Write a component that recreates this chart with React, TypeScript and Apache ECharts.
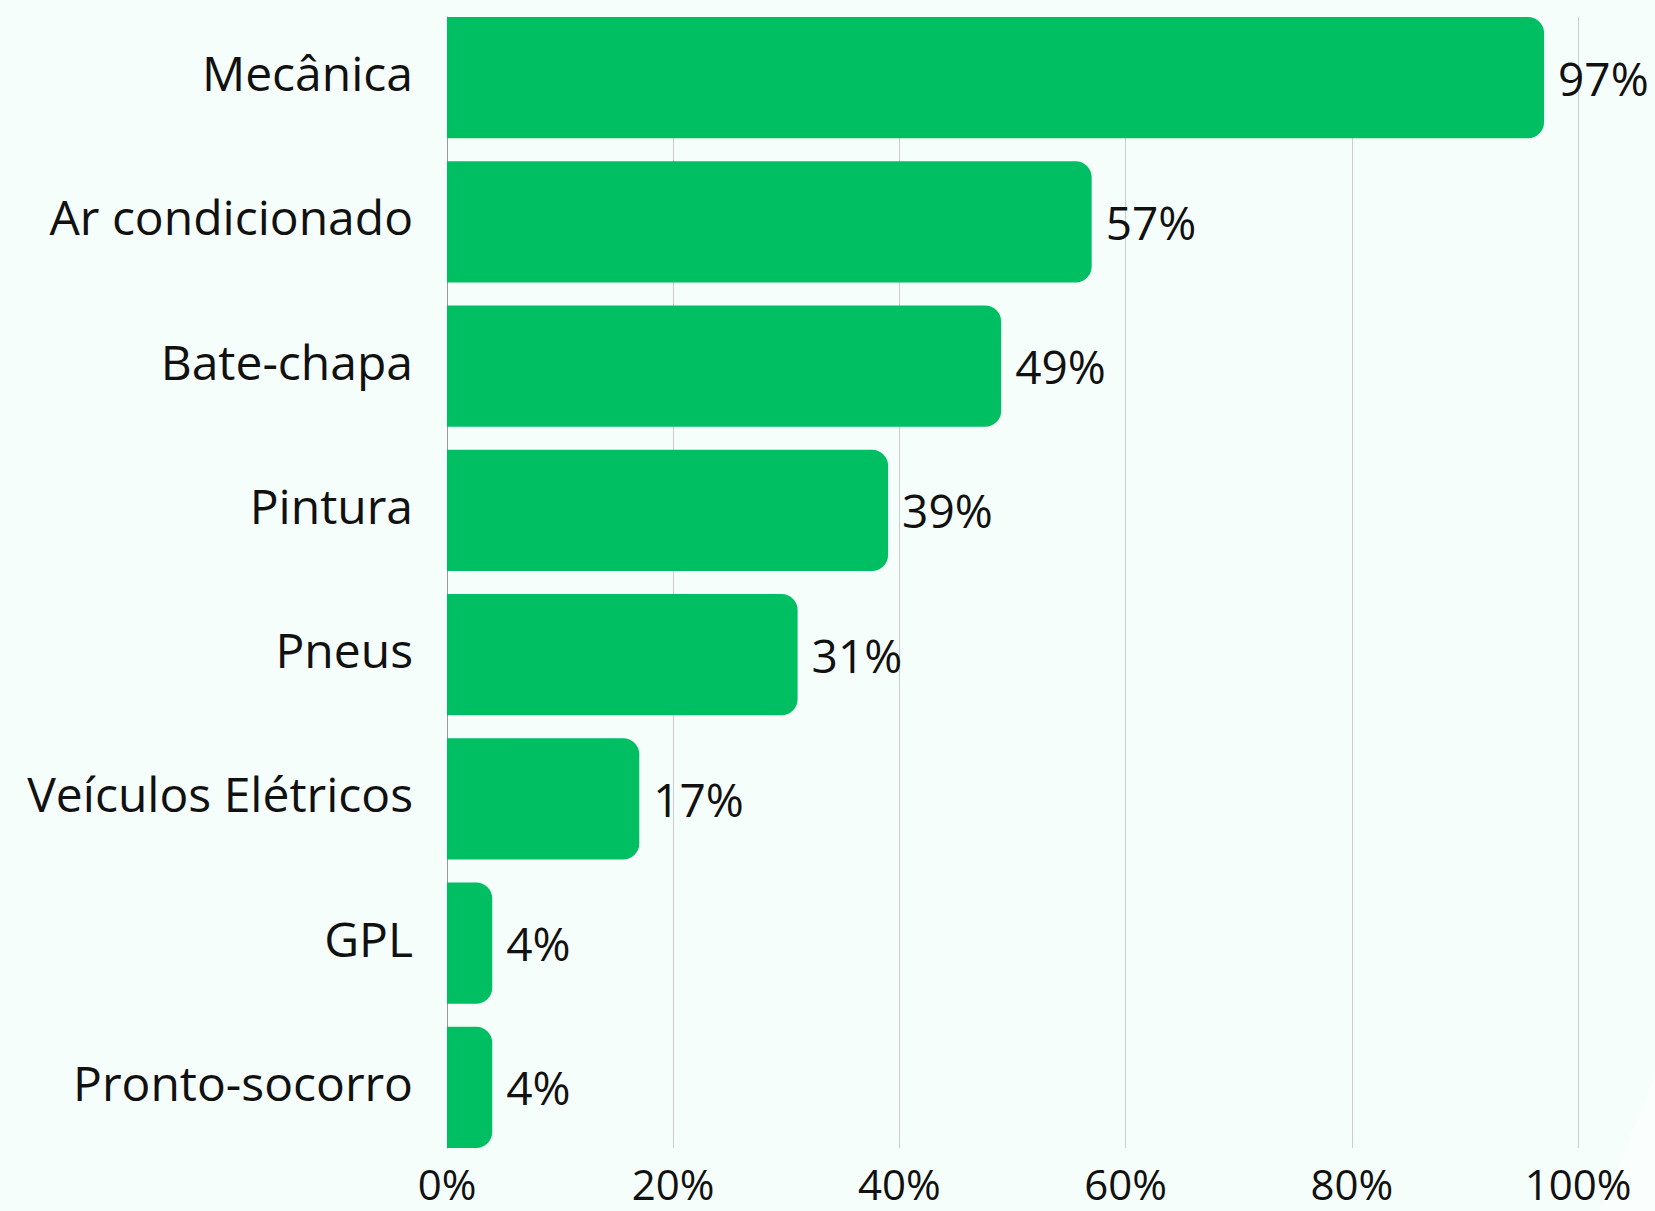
import React, { useEffect, useRef } from "react";
import * as echarts from "echarts";

const categories = [
  "Mecânica",
  "Ar condicionado",
  "Bate-chapa",
  "Pintura",
  "Pneus",
  "Veículos Elétricos",
  "GPL",
  "Pronto-socorro",
];
const values = [97, 57, 49, 39, 31, 17, 4, 4];
const xTicks = { min: 0, max: 100, interval: 20 };

const FONT = "'Open Sans', Lato, sans-serif";
const LEFT = 447;
const RIGHT = 77;

export default function App() {
  const ref = useRef<HTMLDivElement>(null);
  useEffect(() => {
    document.body.style.margin = "0";
    document.body.style.background = "#F5FEFA";
    if (!ref.current) return;
    const chart = echarts.init(ref.current, undefined, { renderer: "svg" });
    chart.setOption({
      animation: false,
      backgroundColor: "#F5FEFA",
      textStyle: { fontFamily: FONT },
      graphic: [
        {
          type: "polygon",
          silent: true,
          z: -10,
          shape: {
            points: [
              [1600, 1211],
              [1655, 1075],
              [1655, 1211],
            ],
          },
          style: { fill: "#FAFFFD" },
        },
      ],
      grid: [
        { left: LEFT, right: RIGHT, top: 5.4, bottom: 51.4, containLabel: false },
        { left: LEFT, right: RIGHT, top: 17, bottom: 63, containLabel: false },
      ],
      xAxis: [
        {
          type: "value",
          gridIndex: 0,
          min: xTicks.min,
          max: xTicks.max,
          interval: xTicks.interval,
          show: false,
        },
        {
          type: "value",
          gridIndex: 1,
          min: xTicks.min,
          max: xTicks.max,
          interval: xTicks.interval,
          axisLine: { show: false },
          axisTick: { show: false },
          splitLine: { show: true, lineStyle: { color: "#CCCCCC", width: 1 } },
          axisLabel: {
            formatter: "{value}%",
            fontSize: 42,
            lineHeight: 38,
            color: "#111111",
            margin: 16,
            fontFamily: FONT,
          },
        },
      ],
      yAxis: [
        {
          type: "category",
          gridIndex: 0,
          inverse: true,
          data: categories,
          axisLine: { show: false },
          axisTick: { show: false },
          axisLabel: {
            formatter: (v: string) => `{a|${v}}`,
            margin: 34,
            rich: {
              a: {
                fontSize: 48,
                color: "#111111",
                fontFamily: FONT,
                padding: [0, 0, 10, 0],
              },
            },
          },
          z: 3,
        },
        {
          type: "category",
          gridIndex: 1,
          inverse: true,
          data: categories,
          axisLine: { show: true, lineStyle: { color: "#999999", width: 1 } },
          axisTick: { show: false },
          axisLabel: { show: false },
        },
      ],
      series: [
        {
          type: "bar",
          xAxisIndex: 0,
          yAxisIndex: 0,
          data: values,
          barCategoryGap: "16%",
          z: 5,
          itemStyle: { color: "#00BF63", borderRadius: [0, 16, 16, 0] },
          label: {
            show: true,
            position: "right",
            distance: 14,
            formatter: "{c}%",
            fontSize: 46,
            color: "#111111",
            fontFamily: FONT,
          },
        },
      ],
    });
    return () => chart.dispose();
  }, []);
  return <div ref={ref} style={{ width: 1655, height: 1211 }} />;
}
